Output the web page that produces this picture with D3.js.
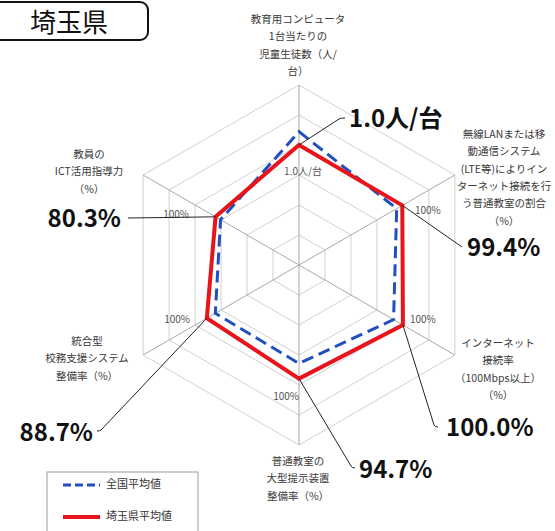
<!DOCTYPE html>
<html><head><meta charset="utf-8">
<script src="https://cdn.jsdelivr.net/npm/d3@7"></script>
<style>
html,body{margin:0;padding:0;background:#fff;overflow:hidden;}
svg{display:block;}
text{font-family:"Noto Sans CJK JP","Noto Sans",sans-serif;}
</style></head>
<body>
<svg id="chart" width="555" height="531"></svg>
<script>
// ---- data ----
const prefecture = "埼玉県";
const categories = [
  ["教育用コンピュータ","1台当たりの","児童生徒数（人/","台）"],
  ["無線LANまたは移","動通信システム","(LTE等)によりイン","ターネット接続を行","う普通教室の割合","（%）"],
  ["インターネット","接続率","（100Mbps以上）","（%）"],
  ["普通教室の","大型提示装置","整備率（%）"],
  ["統合型","校務支援システム","整備率（%）"],
  ["教員の","ICT活用指導力","（%）"]
];
const seriesNames = ["全国平均値","埼玉県平均値"];
const nationalValues = [0.9, 94.0, 91.0, 82.0, 80.5, 75.5];
const saitamaValues  = [1.0, 99.4, 100.0, 94.7, 88.7, 80.3];
const valueLabels = ["1.0人/台","99.4%","100.0%","94.7%","88.7%","80.3%"];
const referenceLabels = ["1.0人/台","100%","100%","100%","100%","100%"];
const referenceValue = [1.0, 100, 100, 100, 100, 100];
const ringTicks = [25, 50, 75, 100, 125, 150];

// ---- layout ----
const svg = d3.select("#chart");
const cx = 299, cy = 265;
const r = d3.scaleLinear().domain([0, 150]).range([0, 180]);
const n = categories.length;
const angle = i => (-90 + 360 / n * i) * Math.PI / 180;
// first axis is "students per computer": lower is better, so it is inverted
const score = (v, i) => i === 0 ? 100 * referenceValue[0] / v : v;
const pt = (s, i) => [cx + r(s) * Math.cos(angle(i)), cy + r(s) * Math.sin(angle(i))];

// grid rings
const g = svg.append("g");
ringTicks.forEach(t => {
  const pts = d3.range(n).map(i => pt(t, i));
  g.append("polygon").attr("points", pts.map(p => p.join(",")).join(" "))
    .attr("fill", "none").attr("stroke", "#d0d0d0").attr("stroke-width", 1);
});
// spokes
d3.range(n).forEach(i => {
  const p = pt(150, i);
  g.append("line").attr("x1", cx).attr("y1", cy).attr("x2", p[0]).attr("y2", p[1])
    .attr("stroke", "#a8a8a8").attr("stroke-width", 1);
});

// reference labels (100%)
const refPos = [
  {dx: 4, dy: 27, anchor: "middle"},
  {dx: 12, dy: 6, anchor: "start"},
  {dx: 7, dy: -5, anchor: "start"},
  {dx: 0, dy: 12, anchor: "end"},
  {dx: -5, dy: -5, anchor: "end"},
  {dx: -6, dy: 10, anchor: "end"}
];
referenceLabels.forEach((t, i) => {
  const p = pt(100, i);
  const o = refPos[i];
  svg.append("text").attr("x", p[0] + o.dx).attr("y", p[1] + o.dy)
    .attr("text-anchor", o.anchor).attr("font-size", 10).attr("fill", "#555")
    .attr("dominant-baseline", "middle").text(t);
});

// series lines
const line = d3.line();
const natPts = nationalValues.map((v, i) => pt(score(v, i), i));
const saiPts = saitamaValues.map((v, i) => pt(score(v, i), i));
svg.append("path").attr("d", line(natPts) + "Z").attr("fill", "none")
  .attr("stroke", "#1f4fc0").attr("stroke-width", 3).attr("stroke-dasharray", "12,6")
  .attr("stroke-linejoin", "miter");
svg.append("path").attr("d", line(saiPts) + "Z").attr("fill", "none")
  .attr("stroke", "#e8141b").attr("stroke-width", 4).attr("stroke-linejoin", "miter");

// leader lines & big value labels
const callout = [
  {ex: 339, ey: 119, tx: 349, ty: 120, anchor: "start"},
  {ex: 462, ey: 247, tx: 467, ty: 249, anchor: "start"},
  {ex: 434, ey: 425, tx: 446, ty: 429, anchor: "start"},
  {ex: 351, ey: 466, tx: 359, ty: 471, anchor: "start"},
  {ex: 101, ey: 430, tx: 93, ty: 434, anchor: "end"},
  {ex: 128, ey: 218, tx: 121, ty: 220, anchor: "end"}
];
saiPts.forEach((p, i) => {
  const c = callout[i];
  let d;
  if (i === 0) d = `M${p[0]},${p[1]}L${c.ex},${c.ey}Q${c.ex + 2},${c.ey - 1} ${c.ex + 6},${c.ey - 1}`;
  else if (i === 2 || i === 3) d = `M${p[0]},${p[1]}L${c.ex},${c.ey}Q${c.ex + 1},${c.ey + 2} ${c.ex + 4},${c.ey + 2}`;
  else if (i === 4) d = `M${p[0]},${p[1]}L${c.ex},${c.ey}Q${c.ex - 1},${c.ey + 1} ${c.ex - 4},${c.ey + 1}`;
  else d = `M${p[0]},${p[1]}L${c.ex},${c.ey}`;
  svg.append("path").attr("d", d).attr("fill", "none").attr("stroke", "#222").attr("stroke-width", 1);
  svg.append("text").attr("x", c.tx).attr("y", c.ty).attr("text-anchor", c.anchor)
    .attr("dominant-baseline", "middle").attr("font-size", 24).attr("font-weight", "bold")
    .attr("fill", "#111").text(valueLabels[i]);
});

// category labels
const catPos = [
  {x: 298, y: 20}, {x: 504, y: 135}, {x: 498, y: 344},
  {x: 298, y: 462}, {x: 87, y: 342}, {x: 89, y: 155}
];
categories.forEach((lines, i) => {
  const t = svg.append("text").attr("text-anchor", "middle").attr("font-size", 10.5)
    .attr("fill", "#3a3a3a").attr("dominant-baseline", "middle");
  lines.forEach((l, j) => {
    t.append("tspan").attr("x", catPos[i].x).attr("y", catPos[i].y + j * 17.3).text(l);
  });
});

// title box
svg.append("rect").attr("x", -10).attr("y", 2).attr("width", 158).attr("height", 38)
  .attr("rx", 8).attr("fill", "#fff").attr("stroke", "#111").attr("stroke-width", 2);
svg.append("text").attr("x", 69).attr("y", 32).attr("text-anchor", "middle")
  .attr("font-size", 26).attr("fill", "#111").text(prefecture);

// legend
const lg = svg.append("g");
lg.append("rect").attr("x", 47).attr("y", 472).attr("width", 151).attr("height", 80)
  .attr("fill", "#fff").attr("stroke", "#999").attr("stroke-width", 1);
const legendStyles = [
  {color: "#1f4fc0", w: 3, dash: "8,4"},
  {color: "#e8141b", w: 4, dash: null}
];
seriesNames.forEach((s, i) => {
  const y = 485 + i * 32;
  lg.append("line").attr("x1", 63).attr("x2", 100).attr("y1", y).attr("y2", y)
    .attr("stroke", legendStyles[i].color).attr("stroke-width", legendStyles[i].w)
    .attr("stroke-dasharray", legendStyles[i].dash);
  lg.append("text").attr("x", 106).attr("y", y).attr("dominant-baseline", "middle")
    .attr("font-size", 11).attr("fill", "#333").text(s);
});
</script>
</body></html>
